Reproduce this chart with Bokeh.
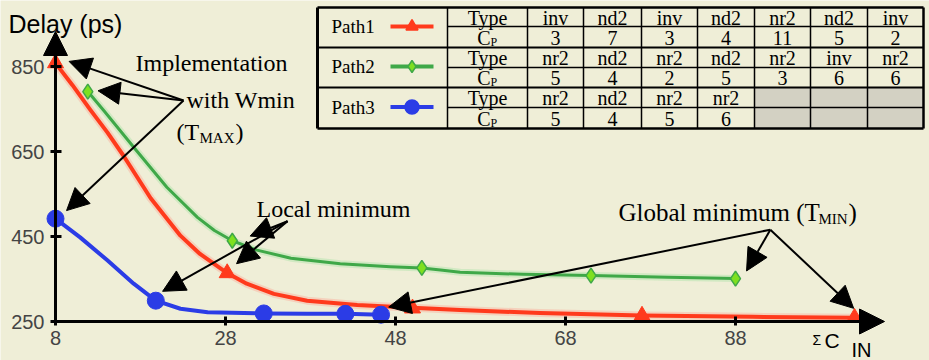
from bokeh.plotting import figure
from bokeh.models import Range1d, LinearAxis, FixedTicker, Arrow, NormalHead
from bokeh.core.properties import value
from bokeh.embed import file_html
from bokeh.resources import INLINE

# ---------------- data ----------------
x_ticks = [8, 28, 48, 68, 88]
y_ticks = [250, 450, 650, 850]

# markers (sum of input capacitance vs delay)
path1_cin = [8, 28.2, 50, 77, 102]
path1_delay = [858, 364, 281, 264, 259]
path2_cin = [11.8, 28.8, 51.1, 71, 88]
path2_delay = [791, 440, 376, 358, 351]
path3_cin = [8, 19.8, 32.5, 42.1, 46.3]
path3_delay = [492, 299, 269, 268, 266]

# curve traces
path1_curve_cin = [8, 10, 12.1, 14.1, 16, 19.2, 22.7, 25, 28.2, 30.5, 33.7, 37.6, 43.5, 49.4,
                   55.6, 65, 77, 90, 102]
path1_curve_delay = [858, 806, 748, 695, 640, 540, 452, 409, 364, 339, 315, 299, 289, 283,
                     277, 270, 264, 261, 259]
path2_curve_cin = [11.8, 13.7, 17.2, 21.1, 24.7, 26.7, 28.8, 31.7, 35.7, 41.5, 47.4, 51.1, 53.3,
                   55.6, 63, 71, 80, 88]
path2_curve_delay = [791, 746, 660, 566, 495, 464, 440, 418, 399, 386, 379, 376, 371,
                     366, 361, 358, 354, 351]
path3_curve_cin = [8, 10.9, 14.1, 17.2, 19.8, 22.7, 25.9, 32.5, 37.6, 42.1, 46.3]
path3_curve_delay = [492, 448, 394, 339, 299, 280, 272, 269, 268, 268, 266]

path_names = ["Path1", "Path2", "Path3"]
path1_types = ["inv", "nd2", "inv", "nd2", "nr2", "nd2", "inv"]
path1_cp = ["3", "7", "3", "4", "11", "5", "2"]
path2_types = ["nr2", "nd2", "nr2", "nd2", "nr2", "inv", "nr2"]
path2_cp = ["5", "4", "2", "5", "3", "6", "6"]
path3_types = ["nr2", "nd2", "nr2", "nr2"]
path3_cp = ["5", "4", "5", "6"]

# ---------------- styling ----------------
BG = "#EFEED7"
RED = "#FF3A1C"
GREEN = "#3FA848"
GREEN_FILL = "#7EE020"
BLUE = "#2B3CE6"
GREY_CELL = "#D3D1C3"
SERIF = value("Liberation Serif")
SANS = value("Liberation Sans")

W, H = 929, 360
PX_X = 8.5      # pixels per unit of x
PX_Y = 0.425    # pixels per ps
X_START = 8 - 55 / PX_X
X_END = X_START + W / PX_X
Y_START = 250 - (H - 321) / PX_Y
Y_END = Y_START + H / PX_Y


def fx(px):  # canvas pixel -> x data
    return X_START + px / PX_X


def fy(py):  # canvas pixel (from top) -> y data
    return Y_END - py / PX_Y


p = figure(width=W, height=H, x_range=Range1d(X_START, X_END), y_range=Range1d(Y_START, Y_END),
           output_backend="svg", toolbar_location=None, min_border=0,
           x_axis_location=None, y_axis_location=None,
           background_fill_color=BG, border_fill_color=BG, outline_line_color=None)
p.grid.visible = False

# ---------------- axes ----------------
xa = LinearAxis(fixed_location=250, ticker=FixedTicker(ticks=x_ticks), axis_line_color=None,
                major_tick_in=5, major_tick_out=4, major_tick_line_width=3, minor_tick_line_color=None,
                major_label_text_font="Liberation Sans", major_label_text_font_size="20px",
                major_label_standoff=5)
ya = LinearAxis(fixed_location=8, ticker=FixedTicker(ticks=y_ticks), axis_line_color=None,
                major_tick_in=6, major_tick_out=5, major_tick_line_width=3, minor_tick_line_color=None,
                major_label_text_font="Liberation Sans", major_label_text_font_size="20px",
                major_label_standoff=6)
p.add_layout(xa, "below")
p.add_layout(ya, "left")

p.add_layout(Arrow(x_start=8, y_start=250, x_end=fx(884), y_end=250, line_width=3,
                   end=NormalHead(size=25, fill_color="black", line_color="black")))
p.add_layout(Arrow(x_start=8, y_start=250, x_end=8, y_end=fy(31), line_width=3,
                   end=NormalHead(size=24, fill_color="black", line_color="black")))

p.text(x=[fx(8)], y=[fy(23)], text=["Delay (ps)"], text_font=SANS, text_font_size="25px",
       text_align="left", text_baseline="middle")
p.text(x=[fx(812)], y=[fy(339)], text=["Σ"], text_font=SANS, text_font_size="14px",
       text_align="left", text_baseline="middle")
p.text(x=[fx(824)], y=[fy(340)], text=["C"], text_font=SANS, text_font_size="21px",
       text_align="left", text_baseline="middle")
p.text(x=[fx(851)], y=[fy(349)], text=["IN"], text_font=SANS, text_font_size="20px",
       text_align="left", text_baseline="middle")

# ---------------- curves ----------------
p.line(path1_curve_cin, path1_curve_delay, line_color="#FF9A8A", line_width=8, line_alpha=0.35,
       line_join="round")
p.line(path2_curve_cin, path2_curve_delay, line_color="#9AE09A", line_width=7, line_alpha=0.35,
       line_join="round")
p.line(path1_curve_cin, path1_curve_delay, line_color=RED, line_width=4, line_join="round")
p.line(path2_curve_cin, path2_curve_delay, line_color=GREEN, line_width=3, line_join="round")
p.line(path3_curve_cin, path3_curve_delay, line_color=BLUE, line_width=4, line_join="round")

p.scatter(path1_cin, path1_delay, marker="triangle", size=16, fill_color=RED, line_color=RED)
p.scatter(path2_cin, path2_delay, marker="diamond", size=15, fill_color=GREEN_FILL, line_color=GREEN,
          line_width=1.5)
p.scatter(path3_cin, path3_delay, marker="circle", size=17, fill_color=BLUE, line_color=BLUE)


# ---------------- annotations ----------------
def arrow(x0, y0, x1, y1):
    p.add_layout(Arrow(x_start=x0, y_start=y0, x_end=x1, y_end=y1, line_width=2, line_color="black",
                       end=NormalHead(size=22, fill_color="black", line_color="black")))


impl_origin = (23.06, 770)
for tip in [(9.6, 862), (13.0, 793), (9.3, 511)]:
    arrow(impl_origin[0], impl_origin[1], tip[0], tip[1])

local_origin = (35.3, 486)
for tip in [(30.9, 451), (29.3, 386), (20.6, 321)]:
    arrow(local_origin[0], local_origin[1], tip[0], tip[1])

global_origin = (92.1, 466)
for tip in [(89.3, 369), (101.9, 281), (47.2, 284)]:
    arrow(global_origin[0], global_origin[1], tip[0], tip[1])

p.text(x=[fx(211)], y=[fy(62)], text=["Implementation"], text_font=SERIF, text_font_size="24px",
       text_align="center", text_baseline="middle")
p.text(x=[fx(186)], y=[fy(99)], text=["with Wmin"], text_font=SERIF, text_font_size="24px",
       text_align="left", text_baseline="middle")
p.text(x=[fx(176), fx(235)], y=[fy(131), fy(131)], text=["(T", ")"], text_font=SERIF,
       text_font_size="24px", text_align="left", text_baseline="middle")
p.text(x=[fx(199)], y=[fy(137)], text=["MAX"], text_font=SERIF, text_font_size="15px",
       text_align="left", text_baseline="middle")
p.text(x=[fx(256)], y=[fy(208)], text=["Local minimum"], text_font=SERIF, text_font_size="24px",
       text_align="left", text_baseline="middle")
p.text(x=[fx(618), fx(848)], y=[fy(212), fy(212)], text=["Global minimum (T", ")"], text_font=SERIF,
       text_font_size="25px", text_align="left", text_baseline="middle")
p.text(x=[fx(818)], y=[fy(218)], text=["MIN"], text_font=SERIF, text_font_size="15px",
       text_align="left", text_baseline="middle")

# ---------------- table ----------------
col_edges = [317, 447, 527, 583, 641, 697, 754, 810, 867, 923]
row_edges = [7, 26, 47, 67, 87, 107, 128]
types = [path1_types, path2_types, path3_types]
cps = [path1_cp, path2_cp, path3_cp]

p.quad(left=[fx(col_edges[0])], right=[fx(col_edges[-1])], top=[fy(row_edges[0])],
       bottom=[fy(row_edges[-1])], fill_color=BG, line_color=None)
n3 = len(path3_types)
p.quad(left=[fx(col_edges[2 + n3])], right=[fx(col_edges[-1])], top=[fy(row_edges[4])],
       bottom=[fy(row_edges[6])], fill_color=GREY_CELL, line_color=None)

hx0, hx1, hy, hw = [], [], [], []
for i, r in enumerate(row_edges):
    if i in (0, 6):
        hx0.append(col_edges[0]); hw.append(2.5)
    elif i in (2, 4):
        hx0.append(col_edges[0]); hw.append(2)
    else:
        hx0.append(col_edges[1]); hw.append(1.5)
    hx1.append(col_edges[-1]); hy.append(r)
p.segment(x0=[fx(v) for v in hx0], x1=[fx(v) for v in hx1], y0=[fy(v) for v in hy],
          y1=[fy(v) for v in hy], line_color="black", line_width=hw)
vw = [3] + [1.5] * (len(col_edges) - 2) + [2.5]
p.segment(x0=[fx(c) for c in col_edges], x1=[fx(c) for c in col_edges],
          y0=[fy(row_edges[0])] * len(col_edges), y1=[fy(row_edges[-1])] * len(col_edges),
          line_color="black", line_width=vw)

tx, ty, tt = [], [], []
for b in range(3):
    ytype = (row_edges[2 * b] + row_edges[2 * b + 1]) / 2 + 0.5
    ycp = (row_edges[2 * b + 1] + row_edges[2 * b + 2]) / 2 + 0.5
    tx.append(fx((col_edges[1] + col_edges[2]) / 2)); ty.append(fy(ytype)); tt.append("Type")
    for i, (t, c) in enumerate(zip(types[b], cps[b])):
        cx = fx((col_edges[2 + i] + col_edges[3 + i]) / 2)
        tx += [cx, cx]; ty += [fy(ytype), fy(ycp)]; tt += [t, c]
p.text(x=tx, y=ty, text=tt, text_font=SERIF, text_font_size="20px", text_align="center",
       text_baseline="middle")
cpy = [fy((row_edges[2 * b + 1] + row_edges[2 * b + 2]) / 2 + 0.5) for b in range(3)]
p.text(x=[fx(490)] * 3, y=cpy, text=["C"] * 3, text_font=SERIF, text_font_size="20px",
       text_align="right", text_baseline="middle")
p.text(x=[fx(490)] * 3, y=[v - 4 / PX_Y for v in cpy], text=["P"] * 3, text_font=SERIF,
       text_font_size="12px", text_align="left", text_baseline="middle")

name_y = [fy((row_edges[2 * b] + row_edges[2 * b + 2]) / 2 - 1) for b in range(3)]
p.text(x=[fx(331)] * 3, y=name_y, text=path_names, text_font=SERIF, text_font_size="19px",
       text_align="left", text_baseline="middle")
for yv, col, mk, fc, sz in zip(name_y, [RED, GREEN, BLUE], ["triangle", "diamond", "circle"],
                               [RED, GREEN_FILL, BLUE], [12, 12, 14]):
    p.line([fx(390), fx(433)], [yv, yv], line_color=col, line_width=4)
    p.scatter([fx(411.5)], [yv], marker=mk, size=sz, fill_color=fc, line_color=col, line_width=1.5)

open("out.html", "w").write(file_html(p, INLINE))
